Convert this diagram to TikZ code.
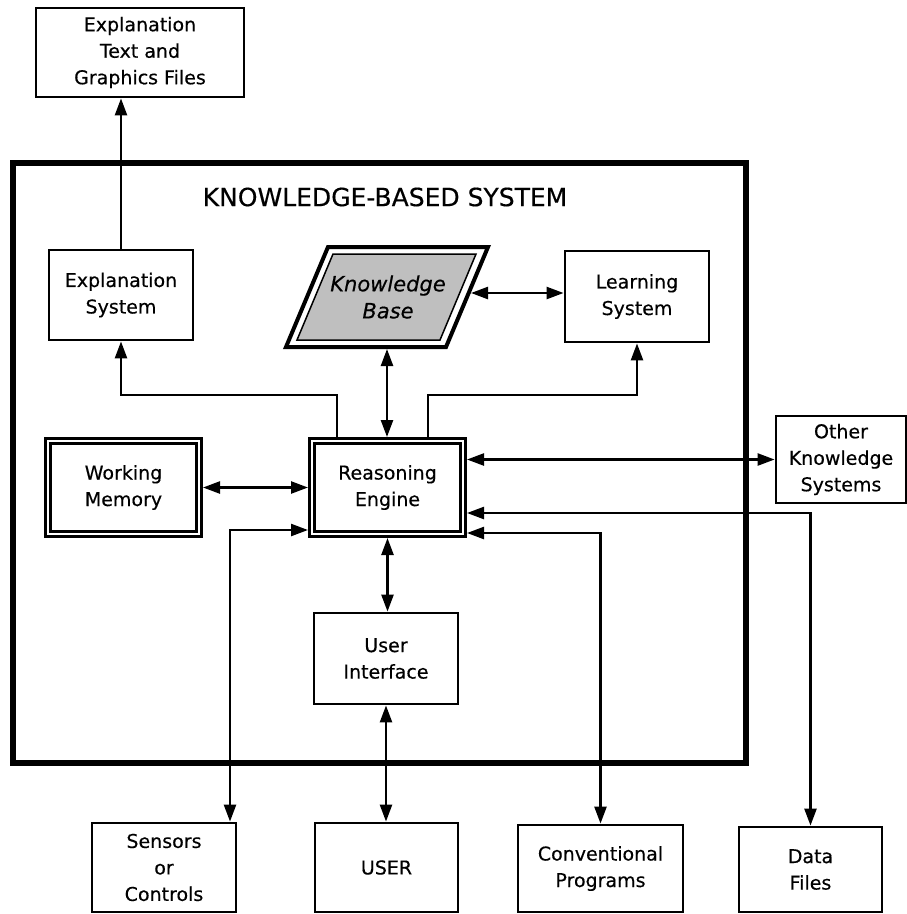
\documentclass[tikz,border=0pt]{standalone}
\usepackage{fontspec}
\setmainfont{DejaVu Sans}[FakeBold=0.4]
\usetikzlibrary{arrows.meta}
\begin{document}
\begin{tikzpicture}[x=1pt,y=-1pt,
  box/.style={draw, line width=2.8pt, fill=white, align=center, font=\fontsize{19}{26.5}\selectfont, inner sep=0pt},
  dbox/.style={box, line width=3pt, double=white, double distance=2pt, outer sep=4pt},
  conn/.style={line width=2.4pt},
  tip/.style={-{Triangle[length=17pt,width=12pt]}},
  both/.style={{Triangle[length=17pt,width=12pt]}-{Triangle[length=17pt,width=12pt]}},
]
\useasboundingbox (0,0) rectangle (907,914);

% outer system box
\node[draw, line width=6pt, minimum width=733pt, minimum height=600pt, inner sep=0pt] (kbs) at (379.5,463) {};
\node[font=\fontsize{25}{30}\selectfont, anchor=center] (title) at (385,197) {KNOWLEDGE-BASED SYSTEM};

% boxes
\node[box, minimum width=208pt, minimum height=89pt] (exptext) at (140,52.5) {Explanation\\Text and\\Graphics Files};
\node[box, minimum width=144pt, minimum height=90pt] (explsys) at (121,295) {Explanation\\System};
\node[box, minimum width=144pt, minimum height=91pt] (learn) at (637,296.5) {Learning\\System};
\node[dbox, minimum width=151pt, minimum height=93pt] (re) at (387.5,487.5) {Reasoning\\Engine};
\node[dbox, minimum width=151pt, minimum height=93pt] (wm) at (123.5,487.5) {Working\\Memory};
\node[box, minimum width=130pt, minimum height=87pt] (other) at (841,459.5) {Other\\Knowledge\\Systems};
\node[box, minimum width=144pt, minimum height=91pt] (ui) at (386,658.5) {User\\Interface};
\node[box, minimum width=144pt, minimum height=89pt] (sens) at (164,867.5) {Sensors\\or\\Controls};
\node[box, minimum width=143pt, minimum height=89pt] (user) at (386.5,867.5) {USER};
\node[box, minimum width=165pt, minimum height=87pt] (conv) at (600.5,868.5) {Conventional\\Programs};
\node[box, minimum width=143pt, minimum height=85pt] (data) at (810.5,869.5) {Data\\Files};

% knowledge base parallelogram
\draw[line width=4pt, line join=miter, fill=white] (328,247) -- (488,247) -- (446,347) -- (286,347) -- cycle;
\draw[line width=1.5pt, fill=black!25] (333,254) -- (476,254) -- (440,340) -- (297,340) -- cycle;
\node[font=\fontsize{21}{27}\selectfont\itshape, align=center] (kb) at (388,297) {Knowledge\\Base};
\coordinate (kbS) at (387,349);
\coordinate (kbE) at (471,293);

% connectors
\draw[conn,tip] (explsys.north) -- (explsys.north |- exptext.south);
\draw[conn,tip] ([xshift=-50.5pt]re.north) -- ++(0,-42) -| (explsys.south);
\draw[conn,tip] ([xshift=40.5pt]re.north) -- ++(0,-42) -| (learn.south);
\draw[conn,both] (kbS) -- (kbS |- re.north);
\draw[conn,both] (kbE) -- (kbE -| learn.west);
\draw[conn,both] (wm.east) -- (re.west);
\draw[conn,both] (re.east |- other.west) -- (other.west);
\draw[conn,both] (re.south) -- (re.south |- ui.north);
\draw[conn,both] (ui.south) -- (ui.south |- user.north);
\coordinate (dturn) at (810,513);
\draw[conn,both] (re.east |- dturn) -| (data.north);
\coordinate (cturn) at (600,533);
\draw[conn,both] (re.east |- cturn) -| (conv.north);
\coordinate (sturn) at (230,530);
\draw[conn,both] (re.west |- sturn) -- (sturn) -- (sturn |- sens.north);
\end{tikzpicture}
\end{document}
